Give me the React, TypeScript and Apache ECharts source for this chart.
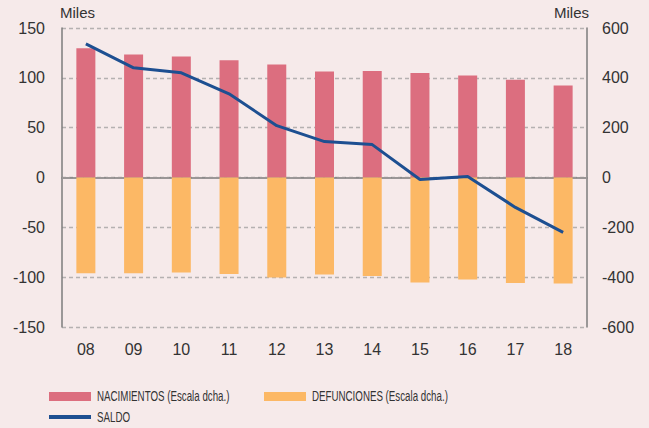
import React, { useEffect, useRef } from "react";
import * as echarts from "echarts";

const categories = ["08", "09", "10", "11", "12", "13", "14", "15", "16", "17", "18"];
const nacimientos = [519, 494, 486, 471, 454, 425, 427, 419, 409, 392, 369];
const defunciones = [-384, -384, -381, -387, -401, -389, -395, -421, -409, -423, -425];
const saldo = [134, 110, 105, 84, 52, 36, 33, -2, 1, -30, -55];
const leftTicks = { min: -150, max: 150, interval: 50 };
const rightTicks = { min: -600, max: 600, interval: 200 };
const seriesNames = ["NACIMIENTOS (Escala dcha.)", "DEFUNCIONES (Escala dcha.)", "SALDO"];

const BG = "#f6eaea";
const PINK = "#dc6e7f";
const ORANGE = "#fcb865";
const BLUE = "#1d4f91";
const AXIS = "#7d7d7d";
const TXT = "#333333";
const FONT = "Liberation Sans, Arial, sans-serif";

export default function App() {
  const ref = useRef<HTMLDivElement>(null);
  useEffect(() => {
    document.body.style.margin = "0";
    if (!ref.current) return;
    const chart = echarts.init(ref.current, undefined, { renderer: "svg" });
    const legText = (x: number, y: number, text: string) => ({
      type: "text",
      x,
      y,
      scaleX: 0.65,
      silent: true,
      style: { text, fill: TXT, fontFamily: FONT, fontSize: 15, verticalAlign: "middle", align: "left" },
    });
    chart.setOption({
      animation: false,
      backgroundColor: BG,
      grid: { left: 62, right: 62, top: 28, bottom: 101 },
      graphic: [
        { type: "rect", silent: true, shape: { x: 49, y: 392, width: 42, height: 9 }, style: { fill: PINK } },
        legText(97, 396, seriesNames[0]),
        { type: "rect", silent: true, shape: { x: 264, y: 392, width: 42, height: 9 }, style: { fill: ORANGE } },
        legText(312, 396, seriesNames[1]),
        { type: "rect", silent: true, shape: { x: 49, y: 415, width: 42, height: 4 }, style: { fill: BLUE } },
        legText(97, 417, seriesNames[2]),
      ],
      xAxis: {
        type: "category",
        data: categories,
        boundaryGap: true,
        axisLine: { lineStyle: { color: AXIS, width: 1.5 } },
        axisTick: { inside: true, length: 5, lineStyle: { color: AXIS, width: 1.2 } },
        axisLabel: { color: TXT, fontFamily: FONT, fontSize: 16, margin: 14 },
      },
      yAxis: [
        {
          type: "value",
          ...leftTicks,
          position: "left",
          name: "Miles",
          nameLocation: "end",
          nameGap: 8,
          nameTextStyle: { color: TXT, fontFamily: FONT, fontSize: 15, align: "left", padding: [0, 0, 0, -2] },
          axisLine: { show: true, lineStyle: { color: AXIS, width: 1.5 } },
          axisTick: { show: false },
          axisLabel: { color: TXT, fontFamily: FONT, fontSize: 16, margin: 17 },
          splitLine: { show: true, lineStyle: { color: "#b5b1b1", type: [4, 3], width: 1.3 } },
        },
        {
          type: "value",
          ...rightTicks,
          position: "right",
          name: "Miles",
          nameLocation: "end",
          nameGap: 8,
          nameTextStyle: { color: TXT, fontFamily: FONT, fontSize: 15, align: "right", padding: [0, -2, 0, 0] },
          axisLine: { show: true, lineStyle: { color: AXIS, width: 1.5 } },
          axisTick: { show: false },
          axisLabel: { color: TXT, fontFamily: FONT, fontSize: 16, margin: 15 },
          splitLine: { show: false },
        },
      ],
      series: [
        {
          name: "zero",
          type: "line",
          yAxisIndex: 0,
          data: [],
          z: 1,
          markLine: {
            silent: true,
            symbol: "none",
            z: 1,
            label: { show: false },
            lineStyle: { color: "#9a9696", type: [8, 3], width: 2 },
            data: [{ yAxis: 0 }],
          },
        },
        {
          name: seriesNames[0],
          type: "bar",
          yAxisIndex: 1,
          data: nacimientos,
          barWidth: 19,
          barGap: "-100%",
          itemStyle: { color: PINK },
          z: 2,
        },
        {
          name: seriesNames[1],
          type: "bar",
          yAxisIndex: 1,
          data: defunciones,
          barWidth: 19,
          barGap: "-100%",
          itemStyle: { color: ORANGE },
          z: 2,
        },
        {
          name: seriesNames[2],
          type: "line",
          yAxisIndex: 0,
          data: saldo,
          symbol: "none",
          lineStyle: { color: BLUE, width: 3 },
          itemStyle: { color: BLUE },
          z: 4,
        },
      ],
    });
    return () => chart.dispose();
  }, []);
  return <div ref={ref} style={{ width: 649, height: 428 }} />;
}
